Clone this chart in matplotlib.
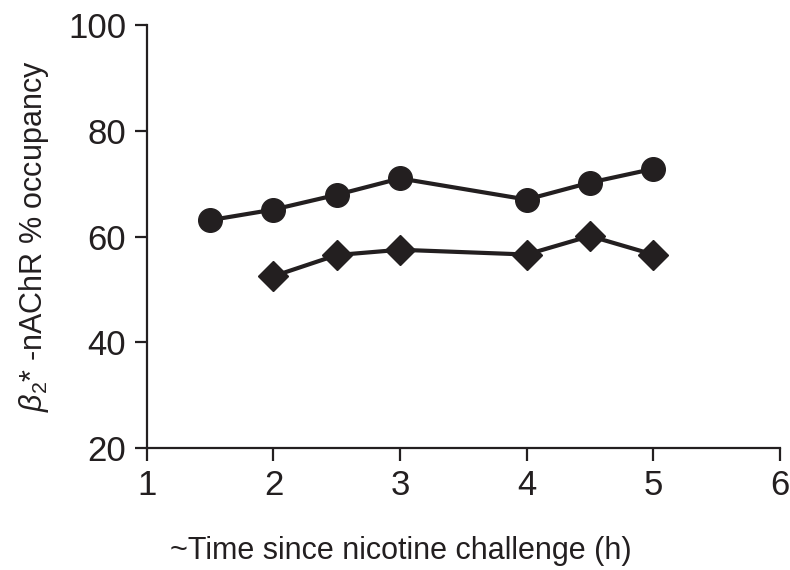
import matplotlib.pyplot as plt

plt.rcParams['font.family'] = ['Liberation Sans Narrow', 'Liberation Sans', 'DejaVu Sans']
plt.rcParams['mathtext.fontset'] = 'custom'
plt.rcParams['mathtext.it'] = 'Liberation Sans:italic'
plt.rcParams['mathtext.rm'] = 'Liberation Sans'

ink = '#231f20'

# circles series
circ_t = [1.5, 2, 2.5, 3, 4, 4.5, 5]
circ_occ = [63.1, 65.1, 67.9, 71.0, 67.0, 70.2, 72.8]

# diamonds series
diam_t = [2, 2.5, 3, 4, 4.5, 5]
diam_occ = [52.5, 56.5, 57.5, 56.6, 60.1, 56.6]

fig = plt.figure(figsize=(7.9, 5.7), dpi=100)
ax = fig.add_axes([0.186, 0.214, 0.801, 0.742])

ax.plot(circ_t, circ_occ, '-o', color=ink, lw=3, ms=17, clip_on=False)
ax.plot(diam_t, diam_occ, '-D', color=ink, lw=3, ms=15, clip_on=False)

ax.set_xlim(1, 6)
ax.set_ylim(20, 100)
ax.set_xticks([1, 2, 3, 4, 5, 6])
ax.set_yticks([20, 40, 60, 80, 100])

for s in ['top', 'right']:
    ax.spines[s].set_visible(False)
for s in ['left', 'bottom']:
    ax.spines[s].set_linewidth(1.6)
    ax.spines[s].set_color(ink)

ax.tick_params(direction='out', length=9, width=1.6, colors=ink, labelsize=25, pad=6)

# x label sits centred on the figure, not the axes
fig.text(0.507, 0.02, '~Time since nicotine challenge (h)', fontsize=22,
         color=ink, ha='center', va='baseline')
ax.set_ylabel(r'$\beta_2$* -nAChR % occupancy', fontsize=22, color=ink, labelpad=12)

fig.savefig('out.png', dpi=100)
